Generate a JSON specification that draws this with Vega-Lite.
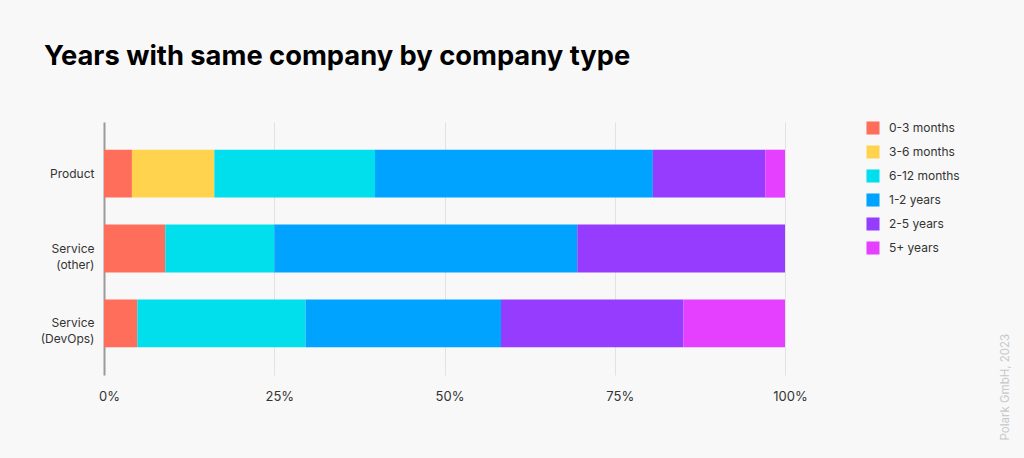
{
  "$schema": "https://vega.github.io/schema/vega-lite/v6.json",
  "autosize": {"type": "none"},
  "width": 681,
  "height": 253,
  "padding": {"left": 104, "top": 122, "right": 239, "bottom": 83},
  "background": "#f8f8f8",
  "title": {
    "text": "Years with same company by company type",
    "anchor": "start",
    "frame": "group",
    "dx": -60,
    "offset": 51,
    "font": "Inter",
    "fontSize": 27.3,
    "fontWeight": "bold",
    "color": "#000000"
  },
  "config": {
    "view": {"stroke": null},
    "font": "Inter"
  },
  "data": {
    "values": [
      {"type": "Product", "tenure": "0-3 months", "order": 1, "pct": 4.1},
      {"type": "Product", "tenure": "3-6 months", "order": 2, "pct": 12.1},
      {"type": "Product", "tenure": "6-12 months", "order": 3, "pct": 23.6},
      {"type": "Product", "tenure": "1-2 years", "order": 4, "pct": 40.8},
      {"type": "Product", "tenure": "2-5 years", "order": 5, "pct": 16.5},
      {"type": "Product", "tenure": "5+ years", "order": 6, "pct": 2.9},
      {"type": "Service (other)", "tenure": "0-3 months", "order": 1, "pct": 9.0},
      {"type": "Service (other)", "tenure": "6-12 months", "order": 3, "pct": 16.0},
      {"type": "Service (other)", "tenure": "1-2 years", "order": 4, "pct": 44.5},
      {"type": "Service (other)", "tenure": "2-5 years", "order": 5, "pct": 30.5},
      {"type": "Service (DevOps)", "tenure": "0-3 months", "order": 1, "pct": 4.9},
      {"type": "Service (DevOps)", "tenure": "6-12 months", "order": 3, "pct": 24.7},
      {"type": "Service (DevOps)", "tenure": "1-2 years", "order": 4, "pct": 28.7},
      {"type": "Service (DevOps)", "tenure": "2-5 years", "order": 5, "pct": 26.8},
      {"type": "Service (DevOps)", "tenure": "5+ years", "order": 6, "pct": 14.9}
    ]
  },
  "layer": [
    {
      "mark": {"type": "bar"},
      "encoding": {
        "y": {
          "field": "type",
          "type": "nominal",
          "sort": ["Product", "Service (other)", "Service (DevOps)"],
          "scale": {"paddingInner": 0.36, "paddingOuter": 0.37},
          "axis": {
            "title": null,
            "labelExpr": "datum.value == 'Service (other)' ? ['Service', '(other)'] : datum.value == 'Service (DevOps)' ? ['Service', '(DevOps)'] : datum.value",
            "labelFontSize": 12,
            "labelColor": "#333333",
            "labelPadding": 10,
            "labelLineHeight": 16,
            "ticks": false,
            "domain": false,
            "grid": false
          }
        },
        "x": {
          "field": "pct",
          "type": "quantitative",
          "stack": "normalize",
          "scale": {"domain": [0, 1], "nice": false},
          "axis": {
            "title": null,
            "format": ".0%",
            "values": [0, 0.25, 0.5, 0.75, 1],
            "labelFontSize": 13,
            "labelColor": "#333333",
            "labelPadding": 15,
            "labelOffset": 5,
            "labelFlush": false,
            "ticks": false,
            "domain": false,
            "grid": true,
            "gridColor": {"condition": {"test": "datum.value === 0", "value": "#9a9a9a"}, "value": "#e2e2e2"},
            "gridWidth": {"condition": {"test": "datum.value === 0", "value": 2}, "value": 1}
          }
        },
        "color": {
          "field": "tenure",
          "type": "nominal",
          "sort": ["0-3 months", "3-6 months", "6-12 months", "1-2 years", "2-5 years", "5+ years"],
          "scale": {
            "domain": ["0-3 months", "3-6 months", "6-12 months", "1-2 years", "2-5 years", "5+ years"],
            "range": ["#ff6e5a", "#ffd34d", "#00dfeb", "#00a3ff", "#963cff", "#e540ff"]
          },
          "legend": {
            "title": null,
            "orient": "none",
            "legendX": 762,
            "legendY": -1,
            "symbolType": "square",
            "symbolSize": 170,
            "symbolStrokeWidth": 0,
            "labelFontSize": 12,
            "labelColor": "#333333",
            "labelOffset": 9,
            "rowPadding": 10,
            "symbolOpacity": 1
          }
        },
        "order": {"field": "order", "type": "quantitative"}
      }
    },
    {
      "mark": {"type": "rule", "opacity": 0},
      "encoding": {
        "y": {
          "field": "type",
          "type": "nominal",
          "sort": ["Product", "Service (other)", "Service (DevOps)"],
          "axis": {
            "orient": "right",
            "title": "Polark GmbH, 2023",
            "titleAngle": -90,
            "titleFontSize": 11.5,
            "titleFontWeight": "normal",
            "titleColor": "#c8c8c8",
            "titleX": 220,
            "titleY": 318,
            "titleAlign": "left",
            "titleBaseline": "middle",
            "labels": false,
            "ticks": false,
            "domain": false,
            "grid": false
          }
        }
      }
    }
  ],
  "resolve": {"axis": {"y": "independent"}}
}
